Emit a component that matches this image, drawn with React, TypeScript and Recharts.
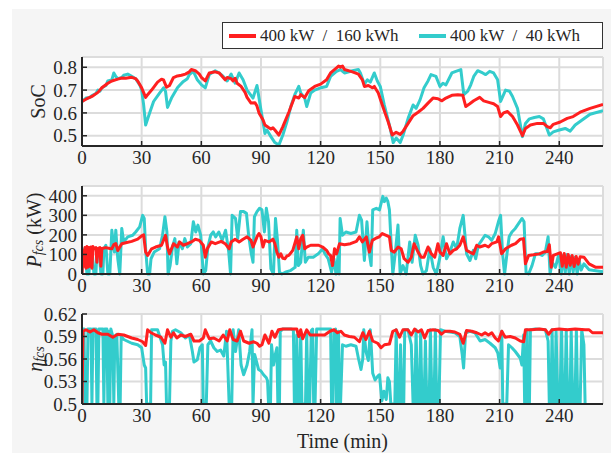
import React from "react";
import { LineChart, Line, XAxis, YAxis, CartesianGrid, Label, Legend } from "recharts";

const FONT = '"Liberation Serif", "DejaVu Serif", serif';
const INK = "#262626";
const RED = "#ff1f1f";
const CYAN = "#33cccc";

const seriesNames = ["400 kW  /  160 kWh", "400 kW  /  40 kWh"];
const timeTicks = [0, 30, 60, 90, 120, 150, 180, 210, 240];
const timeDomain = [0, 262];

const socTicks = [0.5, 0.6, 0.7, 0.8];
const powerTicks = [0, 100, 200, 300, 400];
const effTicks = [0.5, 0.53, 0.56, 0.59, 0.62];

// [time (min), value]
const soc160 = [
  [0, 0.65], [2, 0.66], [5, 0.672], [8, 0.69], [10, 0.71], [13, 0.73], [15, 0.74], [18, 0.748], [20, 0.753], [22, 0.752],
  [25, 0.756], [27, 0.75], [28, 0.74], [30, 0.71], [32, 0.668], [33, 0.68], [35, 0.7], [38, 0.735], [40, 0.748], [41, 0.745],
  [42.5, 0.713], [44, 0.72], [46, 0.755], [48, 0.762], [50, 0.765], [52, 0.77], [54, 0.78], [55, 0.79], [57, 0.785], [59, 0.77],
  [60, 0.756], [62, 0.74], [64, 0.775], [67, 0.78], [69, 0.775], [70, 0.765], [72, 0.745], [73, 0.755], [75, 0.75], [76, 0.74],
  [77, 0.752], [78, 0.73], [80, 0.716], [82, 0.69], [83, 0.668], [85, 0.643], [87, 0.645], [88, 0.63], [89, 0.6], [91, 0.57],
  [92, 0.547], [94, 0.535], [95, 0.53], [96, 0.535], [97, 0.525], [99, 0.503], [101, 0.54], [104, 0.603], [107, 0.672], [109, 0.665],
  [110, 0.68], [112, 0.667], [114, 0.697], [117, 0.716], [120, 0.726], [123, 0.745], [125, 0.775], [128, 0.797], [129, 0.805], [130, 0.8],
  [131, 0.805], [132, 0.79], [136, 0.78], [139, 0.77], [141, 0.745], [142, 0.716], [144, 0.72], [146, 0.71], [147, 0.716], [149, 0.687],
  [151, 0.635], [154, 0.56], [156, 0.503], [158, 0.515], [160, 0.506], [161.5, 0.52], [164, 0.554], [166.5, 0.588], [169, 0.603], [171.5, 0.62],
  [174, 0.643], [176.5, 0.665], [179, 0.662], [181, 0.653], [183, 0.665], [186, 0.677], [189, 0.68], [191.5, 0.677], [193, 0.628], [195, 0.64],
  [197, 0.653], [200, 0.668], [202, 0.653], [205, 0.645], [207, 0.64], [209, 0.628], [210.5, 0.584], [212, 0.6], [214, 0.606], [216.5, 0.584],
  [219, 0.547], [221.5, 0.5], [223, 0.532], [225.5, 0.547], [229, 0.554], [232, 0.554], [234, 0.54], [235.5, 0.535], [237, 0.55], [240.5, 0.56],
  [244, 0.576], [247, 0.584], [250.5, 0.603], [255.5, 0.62], [262, 0.637],
];

const soc40 = [
  [0, 0.65], [2, 0.665], [4, 0.668], [5, 0.676], [7, 0.685], [8, 0.7], [9, 0.695], [10, 0.71], [12, 0.72], [13, 0.74],
  [15, 0.745], [16, 0.775], [17, 0.76], [18, 0.75], [20, 0.755], [21, 0.765], [23, 0.77], [25, 0.76], [27, 0.75], [29, 0.723],
  [30, 0.7], [31, 0.635], [32, 0.547], [34, 0.6], [36, 0.65], [39, 0.687], [41, 0.71], [42, 0.695], [43, 0.624], [45, 0.665],
  [48, 0.71], [49, 0.72], [51, 0.738], [53, 0.75], [54, 0.768], [56, 0.782], [58, 0.745], [60, 0.724], [62, 0.71], [64, 0.768],
  [67, 0.785], [69, 0.775], [71, 0.76], [73, 0.74], [75, 0.77], [77, 0.73], [79, 0.775], [81, 0.745], [83, 0.7], [86, 0.665],
  [88, 0.72], [90, 0.613], [92, 0.51], [93, 0.525], [95, 0.496], [97, 0.47], [99, 0.459], [101, 0.503], [103, 0.56], [105, 0.628],
  [107, 0.68], [109, 0.716], [110, 0.687], [112, 0.665], [113, 0.628], [115, 0.687], [117, 0.7], [120, 0.71], [123, 0.716], [125, 0.76],
  [128, 0.782], [130, 0.79], [132, 0.775], [136, 0.785], [139, 0.79], [140, 0.775], [142, 0.726], [143.5, 0.745], [145, 0.735], [147, 0.775],
  [148.5, 0.74], [150, 0.716], [152, 0.635], [155, 0.532], [156.5, 0.47], [158, 0.49], [160, 0.47], [161.5, 0.503], [164, 0.576], [166.5, 0.635],
  [168, 0.62], [170, 0.657], [172, 0.71], [174, 0.74], [175.5, 0.768], [178, 0.76], [180, 0.716], [181.5, 0.73], [183, 0.723], [186, 0.775],
  [188, 0.782], [190.5, 0.79], [192, 0.68], [194, 0.695], [195.5, 0.723], [197, 0.76], [199, 0.785], [201.5, 0.775], [203, 0.768], [205, 0.782],
  [207, 0.775], [209, 0.745], [210.5, 0.65], [213, 0.7], [215, 0.695], [216.5, 0.672], [219, 0.62], [221.5, 0.496], [223, 0.554], [225, 0.574],
  [227.5, 0.58], [230, 0.584], [232, 0.574], [235, 0.503], [237, 0.517], [240, 0.525], [243, 0.532], [245.5, 0.52], [248, 0.547], [251.5, 0.569],
  [255.5, 0.594], [262, 0.61],
];

const power160 = [
  [0, 0], [0.5, 120], [1, 40], [1.5, 135], [2, 30], [2.5, 140], [3, 35], [3.5, 135], [4, 40], [4.5, 138],
  [5, 30], [5.5, 140], [6, 130], [7, 135], [7.5, 60], [8, 130], [9, 135], [9.5, 40], [10, 130], [12, 135],
  [14, 130], [15, 129], [16, 150], [17, 155], [18, 120], [19, 138], [20, 155], [22, 160], [25, 167], [28, 178],
  [30, 195], [31, 200], [32, 112], [33, 95], [35, 129], [37, 138], [40, 147], [42, 198], [43, 138], [44, 103],
  [46, 155], [48, 138], [49, 164], [51, 147], [53, 155], [55, 164], [57, 178], [59, 172], [61, 147], [62, 86],
  [63, 129], [65, 164], [67, 155], [70, 167], [72, 155], [74, 129], [75, 164], [77, 178], [79, 164], [81, 178],
  [83, 190], [85, 172], [86, 138], [88, 190], [89, 207], [90, 190], [91, 138], [92, 172], [94, 164], [96, 178],
  [97, 155], [98, 112], [99, 86], [100, 103], [101, 80], [102, 78], [103, 92], [104, 95], [106, 121], [107, 155],
  [108, 190], [109, 129], [110, 181], [111, 198], [112, 129], [113, 138], [115, 147], [117, 147], [119, 147], [121, 138],
  [123, 121], [124, 103], [125, 95], [126, 43], [127, 129], [128, 103], [129.5, 155], [132, 150], [135, 155], [138, 167],
  [139.5, 190], [141, 164], [143, 190], [144.5, 112], [146, 172], [148, 184], [149.5, 190], [151, 207], [153, 198], [154.6, 190],
  [155.5, 121], [157, 112], [159, 138], [160.5, 129], [162, 78], [164, 60], [165.6, 86], [167, 155], [169, 112], [170.6, 86],
  [172, 86], [174, 138], [175.7, 103], [177.4, 86], [179, 155], [180, 112], [181.6, 95], [183.3, 155], [185, 103], [186.7, 121],
  [188.4, 129], [190, 147], [191.7, 190], [193.4, 121], [195, 112], [196.8, 103], [198.5, 147], [200, 138], [202.7, 147], [204.4, 138],
  [206, 155], [208.6, 164], [209.5, 190], [211, 103], [213, 129], [214.5, 138], [216, 147], [218, 155], [220.4, 178], [222, 181],
  [223, 52], [224.6, 95], [227, 98], [230, 103], [232, 112], [234, 115], [235, 150], [236, 34], [237, 95], [239, 103],
  [240.6, 109], [241.5, 40], [242.5, 105], [243.5, 35], [244.5, 100], [245.5, 45], [246.5, 95], [247.5, 38], [248.5, 90], [249.5, 50],
  [250.5, 88], [252.4, 86], [255, 52], [258.4, 34], [262, 34],
];

const power40 = [
  [0, 0], [0.7, 100], [1.3, 129], [2, 60], [2.5, 0], [3.5, 0], [4.2, 110], [5, 129], [6, 0], [7, 0],
  [7.5, 120], [8.5, 129], [9.5, 0], [10.5, 0], [11, 129], [12, 147], [13, 0], [14, 0], [15, 224], [16.3, 112],
  [17, 224], [18, 78], [19, 0], [20, 233], [21, 164], [23, 190], [25.5, 198], [27, 215], [29, 241], [30.5, 300],
  [31.3, 284], [32, 129], [33, 0], [34, 0], [34.7, 78], [36.3, 112], [39, 129], [40.5, 198], [41.7, 293], [42.7, 215],
  [43.3, 0], [44.3, 43], [45.5, 138], [46.7, 181], [47.7, 52], [48.8, 164], [50.5, 129], [51.7, 181], [53, 138], [54.7, 155],
  [56, 267], [57.2, 215], [58.3, 250], [59.7, 198], [61, 0], [62.2, 17], [63.3, 138], [64.7, 198], [66, 215], [67.2, 190],
  [68.8, 215], [70.5, 172], [72.2, 224], [73.8, 112], [74.7, 0], [75.5, 300], [77.2, 284], [78.3, 181], [79.7, 319], [81.3, 319],
  [82.7, 310], [83.8, 198], [85, 112], [86, 60], [86.7, 293], [88, 319], [89.3, 336], [90.5, 328], [91.7, 215], [92.7, 336],
  [93.8, 267], [95, 26], [96.3, 0], [97.3, 284], [98.3, 172], [99.3, 9], [100.5, 0], [102.2, 9], [104.7, 17], [107.2, 34],
  [108, 224], [108.8, 43], [110, 60], [111.3, 224], [112.3, 60], [113.8, 86], [116.3, 86], [118.8, 103], [121, 129], [122.2, 103],
  [123.8, 78], [125.5, 9], [126.7, 78], [127.7, 0], [128.8, 95], [129.3, 0], [129.8, 284], [131, 198], [132.7, 215], [135.2, 207],
  [137.8, 215], [139.5, 300], [140.6, 276], [142, 69], [143.3, 267], [144.5, 103], [145.4, 43], [146.2, 328], [148, 336], [149.6, 328],
  [151.3, 397], [152, 370], [153, 388], [153.8, 371], [154.6, 328], [155.5, 147], [156.3, 0], [157.5, 103], [158.9, 250], [160, 0],
  [161.4, 43], [163, 0], [164.8, 164], [166, 60], [167.6, 198], [169, 147], [170.3, 43], [171.5, 0], [173.2, 17], [174.9, 129],
  [176.6, 34], [178.2, 0], [180, 86], [181.6, 190], [183.3, 78], [185, 112], [186.7, 164], [188.4, 129], [190, 233], [191.7, 300],
  [193.4, 103], [195.1, 69], [196.8, 121], [198, 78], [199.3, 147], [201, 172], [202.7, 198], [204.4, 190], [206, 172], [207.8, 207],
  [209.4, 267], [210.5, 300], [211.5, 103], [212.5, 0], [213.7, 103], [214.8, 190], [216.2, 215], [217.9, 233], [219.6, 259], [221.3, 284],
  [222.3, 267], [223.3, 9], [224.6, 0], [226.3, 43], [228, 103], [229.7, 103], [231.4, 95], [233, 112], [234.4, 190], [235.4, 0],
  [236.4, 60], [238.1, 34], [239.8, 103], [241, 0], [242, 95], [243, 5], [244, 100], [245, 0], [246, 90], [247, 10],
  [248, 85], [249, 0], [250, 70], [251, 20], [252.4, 52], [255, 22], [258.4, 17], [262, 12],
];

const eff160 = [
  [0, 0.5], [0.5, 0.597], [2, 0.599], [4, 0.596], [6, 0.599], [8, 0.595], [10, 0.593], [13, 0.593], [15.5, 0.589], [18, 0.593],
  [21, 0.592], [25, 0.588], [28, 0.586], [30.5, 0.583], [32, 0.578], [33, 0.599], [34.7, 0.595], [37, 0.592], [39.7, 0.589], [41.7, 0.581],
  [43, 0.599], [44.7, 0.589], [46, 0.595], [47.7, 0.588], [49.7, 0.592], [52, 0.59], [54.7, 0.593], [56.3, 0.584], [59, 0.584], [61, 0.588],
  [62, 0.599], [64, 0.587], [66.3, 0.588], [69, 0.584], [71, 0.592], [73, 0.584], [74.3, 0.599], [76, 0.586], [78, 0.584], [79.7, 0.597],
  [81.3, 0.584], [84, 0.581], [86.3, 0.583], [88, 0.581], [89.3, 0.577], [90.5, 0.579], [92, 0.592], [94, 0.581], [95.5, 0.597], [97, 0.589],
  [98.8, 0.599], [101, 0.6], [105, 0.6], [108, 0.6], [109, 0.59], [110, 0.599], [111, 0.587], [113, 0.599], [114.7, 0.592], [117, 0.592],
  [119.7, 0.592], [122, 0.592], [124.7, 0.597], [126.7, 0.599], [128.5, 0.595], [130.2, 0.597], [131.9, 0.592], [134.4, 0.59], [137, 0.589], [139.5, 0.583],
  [141.2, 0.595], [142.8, 0.586], [144.5, 0.597], [146.2, 0.584], [148.7, 0.581], [150.4, 0.575], [152.1, 0.579], [154.6, 0.58], [156.3, 0.597], [158, 0.599],
  [159.7, 0.589], [161.4, 0.599], [163.9, 0.599], [165.6, 0.592], [167.3, 0.6], [169, 0.596], [170.7, 0.599], [172.3, 0.588], [174, 0.598], [176.6, 0.599],
  [179.1, 0.598], [180.8, 0.593], [182.5, 0.597], [185, 0.597], [187.5, 0.596], [190, 0.593], [191.7, 0.581], [193.4, 0.598], [196, 0.597], [198.5, 0.595],
  [201, 0.592], [202.7, 0.595], [204.4, 0.592], [206.1, 0.595], [207.8, 0.588], [209.4, 0.584], [211.1, 0.597], [212.8, 0.589], [215.3, 0.59], [217.9, 0.588],
  [220.4, 0.584], [222.1, 0.583], [223, 0.599], [226, 0.599], [230, 0.6], [233, 0.599], [234.7, 0.593], [236.4, 0.599], [240, 0.6], [244, 0.599],
  [248, 0.6], [253, 0.599], [255, 0.599], [256.7, 0.595], [262, 0.595],
];

const eff40 = [
  [0, 0.5], [0.5, 0.6], [1, 0.6], [1.5, 0.5], [2.5, 0.5], [3, 0.6], [4.5, 0.6], [5, 0.5], [5.5, 0.6], [7, 0.6],
  [7.5, 0.5], [8, 0.5], [8.5, 0.6], [10.5, 0.6], [11, 0.5], [11.5, 0.6], [12.5, 0.6], [13, 0.5], [13.5, 0.597], [14, 0.5],
  [14.5, 0.6], [15.5, 0.59], [16, 0.5], [16.5, 0.59], [17.5, 0.593], [18.5, 0.5], [19.2, 0.5], [19.7, 0.59], [21, 0.586], [25, 0.581],
  [28, 0.579], [30, 0.575], [30.5, 0.566], [31.3, 0.552], [32, 0.548], [32.5, 0.5], [34.5, 0.5], [35, 0.599], [38, 0.599], [40.5, 0.579],
  [41.3, 0.552], [42, 0.556], [42.5, 0.5], [44, 0.5], [44.7, 0.584], [45.5, 0.597], [47, 0.599], [49.7, 0.595], [52, 0.588], [54, 0.592],
  [55.5, 0.57], [56.3, 0.556], [58, 0.559], [59.3, 0.575], [60.5, 0.579], [61, 0.5], [62.5, 0.5], [63.3, 0.579], [64.7, 0.584], [66.3, 0.575],
  [68, 0.57], [69.7, 0.572], [71.3, 0.564], [72.7, 0.597], [73.3, 0.552], [74, 0.5], [75.3, 0.5], [76, 0.599], [77.2, 0.57], [78.8, 0.599],
  [80, 0.552], [81.3, 0.539], [83, 0.552], [84.3, 0.57], [85.5, 0.599], [86, 0.5], [86.8, 0.566], [88.8, 0.546], [90, 0.544], [91.3, 0.539],
  [92.7, 0.535], [93.3, 0.531], [93.8, 0.5], [94.8, 0.5], [95.3, 0.579], [96.3, 0.552], [97.2, 0.566], [98, 0.575], [98.5, 0.5], [99.3, 0.5],
  [99.7, 0.597], [101, 0.6], [105, 0.6], [106.3, 0.599], [106.8, 0.5], [107.5, 0.5], [108, 0.592], [108.7, 0.5], [109.3, 0.5], [110, 0.597],
  [110.6, 0.5], [112.4, 0.5], [113, 0.597], [113.7, 0.5], [114.5, 0.5], [115.3, 0.598], [116, 0.6], [116.5, 0.5], [117.2, 0.5], [118, 0.6],
  [125, 0.6], [125.5, 0.5], [126.2, 0.5], [126.7, 0.597], [127.5, 0.6], [128, 0.5], [128.6, 0.5], [129, 0.597], [129.4, 0.5], [130, 0.5],
  [131, 0.579], [132.7, 0.577], [135.2, 0.579], [137.8, 0.577], [139, 0.561], [140.3, 0.546], [141.2, 0.56], [141.7, 0.599], [142.8, 0.57], [144, 0.558],
  [145, 0.599], [146.2, 0.541], [147.4, 0.532], [148.7, 0.537], [149.6, 0.539], [150.8, 0.504], [151.8, 0.517], [153, 0.506], [153.8, 0.535], [154.6, 0.53],
  [155.3, 0.5], [157.3, 0.5], [158, 0.599], [158.7, 0.5], [159.6, 0.5], [160.2, 0.579], [160.9, 0.5], [161.8, 0.5], [162.3, 0.599], [163.9, 0.599],
  [165.6, 0.579], [166.5, 0.5], [167.3, 0.5], [168, 0.599], [168.8, 0.5], [169.6, 0.5], [170.3, 0.597], [171, 0.5], [172, 0.5], [172.7, 0.584],
  [173.4, 0.5], [174.6, 0.5], [175.2, 0.599], [176, 0.5], [177, 0.5], [177.7, 0.599], [178.4, 0.5], [179.5, 0.5], [180.3, 0.599], [182.5, 0.597],
  [185, 0.596], [187.5, 0.595], [190, 0.59], [191.2, 0.566], [191.9, 0.548], [192.9, 0.595], [195.1, 0.597], [197.6, 0.595], [200.2, 0.584], [202.7, 0.586],
  [205.2, 0.581], [207.8, 0.575], [209.1, 0.568], [210.3, 0.548], [211.1, 0.597], [211.6, 0.5], [213.6, 0.5], [214.5, 0.579], [216.2, 0.575], [217.9, 0.57],
  [220.4, 0.561], [221.2, 0.552], [222.1, 0.592], [222.6, 0.5], [223.4, 0.5], [223.8, 0.599], [224.2, 0.5], [225, 0.5], [225.5, 0.599], [228, 0.6],
  [233, 0.599], [234.4, 0.584], [235, 0.5], [235.8, 0.5], [236.4, 0.599], [237, 0.5], [237.8, 0.5], [238.4, 0.599], [239.3, 0.5], [240.3, 0.5],
  [241.2, 0.599], [241.8, 0.5], [242.8, 0.5], [243.5, 0.599], [244.3, 0.5], [245.4, 0.5], [246, 0.599], [246.8, 0.5], [247.9, 0.5], [248.6, 0.599],
  [249.3, 0.5], [250.5, 0.5], [251.3, 0.599], [252.4, 0.579], [253, 0.5], [253.6, 0.48], [262, 0.48],
];

const toPoints = (arr: number[][]) => arr.map(([t, v]) => ({ t, v }));

const axisLine = { stroke: INK, strokeWidth: 2 };
const tickLine = { stroke: INK, strokeWidth: 1.5 };
const tickText = { fill: INK, fontSize: 19, fontFamily: FONT };

function rotatedLabel(parts: React.ReactNode, offsetX: number) {
  return (props: any) => {
    const vb = props.viewBox;
    const cx = vb.x + offsetX;
    const cy = vb.y + vb.height / 2;
    return (
      <text
        x={cx}
        y={cy}
        transform={`rotate(-90 ${cx} ${cy})`}
        textAnchor="middle"
        dominantBaseline="central"
        fill={INK}
        fontFamily={FONT}
        fontSize={20}
      >
        {parts}
      </text>
    );
  };
}

const socLabel = rotatedLabel("SoC", 38);
const powerLabel = rotatedLabel(
  <>
    <tspan fontStyle="italic">P</tspan>
    <tspan fontStyle="italic" fontSize={14} dy={4}>fcs</tspan>
    <tspan dy={-4}>{" (kW)"}</tspan>
  </>,
  34
);
const effLabel = rotatedLabel(
  <>
    <tspan fontStyle="italic">η</tspan>
    <tspan fontStyle="italic" fontSize={14} dy={4}>fcs</tspan>
  </>,
  35
);

const timeLabel = (props: any) => {
  const vb = props.viewBox;
  return (
    <text x={vb.x + vb.width / 2} y={vb.y + 44} textAnchor="middle" fill={INK} fontFamily={FONT} fontSize={20}>
      Time (min)
    </text>
  );
};

const renderLegend = () => (
  <div
    style={{
      position: "relative",
      boxSizing: "border-box",
      width: 381,
      height: 27,
      border: "1px solid #333",
      background: "#fff",
      fontFamily: FONT,
      fontSize: 17,
      color: INK,
      whiteSpace: "pre",
    }}
  >
    <div style={{ position: "absolute", left: 6, top: 11, width: 27, height: 4, background: RED }} />
    <div style={{ position: "absolute", left: 37, top: 3, lineHeight: "20px" }}>{seriesNames[0]}</div>
    <div style={{ position: "absolute", left: 196, top: 11, width: 27, height: 4, background: CYAN }} />
    <div style={{ position: "absolute", left: 227, top: 3, lineHeight: "20px" }}>{seriesNames[1]}</div>
  </div>
);

type PanelProps = {
  top: number;
  marginTop: number;
  plotHeight: number;
  axisHeight: number;
  yDomain: number[];
  yTicks: number[];
  overflow?: boolean;
  red: number[][];
  cyan: number[][];
  yLabel: any;
  xLabel?: any;
  legend?: boolean;
};

function Panel(p: PanelProps) {
  const height = p.marginTop + p.plotHeight + p.axisHeight;
  return (
    <div style={{ position: "absolute", left: 0, top: p.top }}>
      <LineChart width={611} height={height} margin={{ top: p.marginTop, right: 8, bottom: 0, left: 0 }}>
        <CartesianGrid xAxisId="b" yAxisId="l" stroke="#dcdcdc" strokeWidth={2} fill="#ffffff" fillOpacity={1} />
        <Line
          xAxisId="b"
          yAxisId="l"
          data={toPoints(p.cyan)}
          dataKey="v"
          stroke={CYAN}
          strokeWidth={3}
          dot={false}
          activeDot={false}
          strokeLinejoin="round"
          isAnimationActive={false}
        />
        <Line
          xAxisId="b"
          yAxisId="l"
          data={toPoints(p.red)}
          dataKey="v"
          stroke={RED}
          strokeWidth={3}
          dot={false}
          activeDot={false}
          strokeLinejoin="round"
          isAnimationActive={false}
        />
        <XAxis
          xAxisId="b"
          dataKey="t"
          type="number"
          domain={timeDomain}
          ticks={timeTicks}
          interval={0}
          allowDataOverflow
          height={p.axisHeight}
          axisLine={axisLine}
          tickLine={tickLine}
          tickSize={-5}
          tickMargin={10}
          tick={tickText}
        >
          {p.xLabel ? <Label content={p.xLabel} /> : null}
        </XAxis>
        <XAxis
          xAxisId="t"
          orientation="top"
          dataKey="t"
          type="number"
          domain={timeDomain}
          ticks={timeTicks}
          interval={0}
          allowDataOverflow
          height={0}
          axisLine={axisLine}
          tickLine={tickLine}
          tickSize={-5}
          tick={false}
        />
        <YAxis
          yAxisId="l"
          type="number"
          domain={p.yDomain}
          ticks={p.yTicks}
          interval={0}
          allowDataOverflow={!!p.overflow}
          width={82}
          axisLine={axisLine}
          tickLine={tickLine}
          tickSize={-5}
          tickMargin={10}
          tick={tickText}
        >
          <Label content={p.yLabel} />
        </YAxis>
        <YAxis
          yAxisId="r"
          orientation="right"
          type="number"
          domain={p.yDomain}
          ticks={p.yTicks}
          interval={0}
          allowDataOverflow
          width={0}
          axisLine={axisLine}
          tickLine={tickLine}
          tickSize={-5}
          tick={false}
        />
        {p.legend ? (
          <Legend
            layout="horizontal"
            verticalAlign="middle"
            align="center"
            content={renderLegend}
            wrapperStyle={{ left: 222, top: 22, width: 381, height: 27 }}
          />
        ) : null}
      </LineChart>
    </div>
  );
}

export default function App() {
  return (
    <div style={{ position: "absolute", left: 0, top: 0, width: 611, height: 453, background: "#ffffff", overflow: "hidden" }}>
      <div style={{ position: "absolute", left: 12, top: 9, width: 599, height: 444, background: "#f5f5f5" }} />
      <Panel
        top={0}
        marginTop={57}
        plotHeight={89}
        axisHeight={30}
        yDomain={[0.455, 0.845]}
        yTicks={socTicks}
        red={soc160}
        cyan={soc40}
        yLabel={socLabel}
        legend
      />
      <Panel
        top={176}
        marginTop={10}
        plotHeight={88}
        axisHeight={30}
        yDomain={[0, 450]}
        yTicks={powerTicks}
        red={power160}
        cyan={power40}
        yLabel={powerLabel}
      />
      <Panel
        top={304}
        marginTop={10}
        plotHeight={90}
        axisHeight={49}
        yDomain={[0.5, 0.62]}
        yTicks={effTicks}
        overflow
        red={eff160}
        cyan={eff40}
        yLabel={effLabel}
        xLabel={timeLabel}
      />
    </div>
  );
}
